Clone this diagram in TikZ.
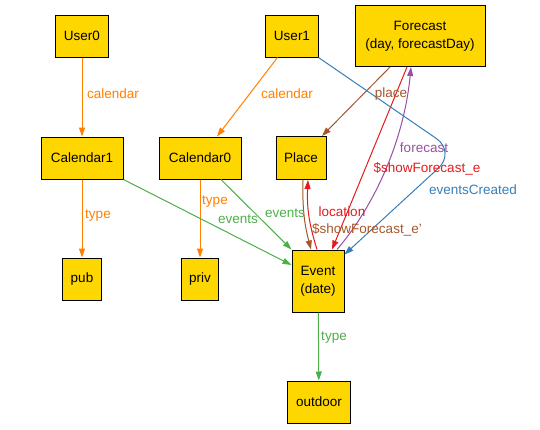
\documentclass[tikz,border=0pt]{standalone}
\usepackage{fontspec}
\setmainfont{Liberation Sans}
\usetikzlibrary{arrows.meta}
\definecolor{gold}{HTML}{FFD700}
\definecolor{corange}{HTML}{FF7F00}
\definecolor{cgreen}{HTML}{4DAF4A}
\definecolor{cbrown}{HTML}{A65628}
\definecolor{cred}{HTML}{E41A1C}
\definecolor{cpurple}{HTML}{984EA3}
\definecolor{cblue}{HTML}{377EB8}
\tikzset{
  box/.style={draw=black, fill=gold, line width=1pt, inner xsep=8pt, inner ysep=2pt,
    minimum height=42pt, align=center, font=\fontsize{13.5}{18}\selectfont},
  lbl/.style={inner sep=0pt, font=\fontsize{13.5}{16}\selectfont},
  edge/.style={line width=1pt, -{Triangle[length=9pt,width=6pt]}},
}
\begin{document}
\begin{tikzpicture}[x=1pt,y=-1pt]
\useasboundingbox (0,0) rectangle (540,429);
% nodes
\node[box] (User0) at (82,36) {User0};
\node[box] (User1) at (292,36) {User1};
\node[box, minimum width=130pt, minimum height=61pt] (Forecast) at (420,36) {Forecast\\(day, forecastDay)};
\node[box, minimum width=82pt] (Calendar1) at (82,158) {Calendar1};
\node[box, minimum width=82pt] (Calendar0) at (200,158) {Calendar0};
\node[box, minimum width=50pt, minimum height=43pt] (Place) at (301,158) {Place};
\node[box, minimum width=38pt] (pub) at (82,279) {pub};
\node[box, minimum width=35pt] (priv) at (200,279) {priv};
\node[box, minimum width=52pt, minimum height=62pt] (Event) at (318,281) {Event\\(date)};
\node[box, minimum width=63pt] (outdoor) at (319,402) {outdoor};
% edges
\draw[edge, corange] (User0) -- (Calendar1);
\draw[edge, corange] ([xshift=12pt]User1.south west) -- ([xshift=17pt]Calendar0.north);
\draw[edge, corange] (Calendar1) -- (pub);
\draw[edge, corange] (Calendar0) -- (priv);
\draw[edge, cgreen] (Calendar1.south east) -- ([yshift=16pt]Event.west);
\draw[edge, cgreen] ([xshift=21pt]Calendar0.south) -- (Event.north west);
\draw[edge, cgreen] (Event) -- (outdoor);
\draw[edge, cbrown] ([xshift=-30pt]Forecast.south) -- ([xshift=21pt]Place.north);
\draw[edge, cbrown] ([xshift=2pt]Place.south) to[bend right=8] ([xshift=-7pt]Event.north);
\draw[edge, cred] ([xshift=-1pt]Event.north) to[bend left=10] ([xshift=7pt]Place.south);
\draw[edge, cred] ([xshift=-13pt]Forecast.south) -- ([xshift=14pt]Event.north);
\draw[edge, cpurple] ([xshift=19pt]Event.north) .. controls (375,205) and (404,140) .. ([xshift=-9pt]Forecast.south);
\draw[edge, cblue, rounded corners=24pt] (User1.south east) -- (456,152) -- ([yshift=-5pt]Event.north east);
% labels
\node[lbl, text=corange] (l1) at (113,94) {calendar};
\node[lbl, text=corange] (l2) at (287,94) {calendar};
\node[lbl, text=corange] (l3) at (98,216) {type};
\node[lbl, text=corange] (l4) at (215,202) {type};
\node[lbl, text=cgreen] (l5) at (238,219) {events};
\node[lbl, text=cgreen] (l6) at (285,213) {events};
\node[lbl, text=cgreen] (l7) at (334,338) {type};
\node[lbl, text=cbrown] (l8) at (391,94) {place};
\node[lbl, text=cbrown] (l9) at (367,230) {\$showForecast\_e'};
\node[lbl, text=cred] (l10) at (342,212) {location};
\node[lbl, text=cred] (l11) at (427,169) {\$showForecast\_e};
\node[lbl, text=cpurple] (l12) at (424,148) {forecast};
\node[lbl, text=cblue] (l13) at (473,190) {eventsCreated};
\end{tikzpicture}
\end{document}
